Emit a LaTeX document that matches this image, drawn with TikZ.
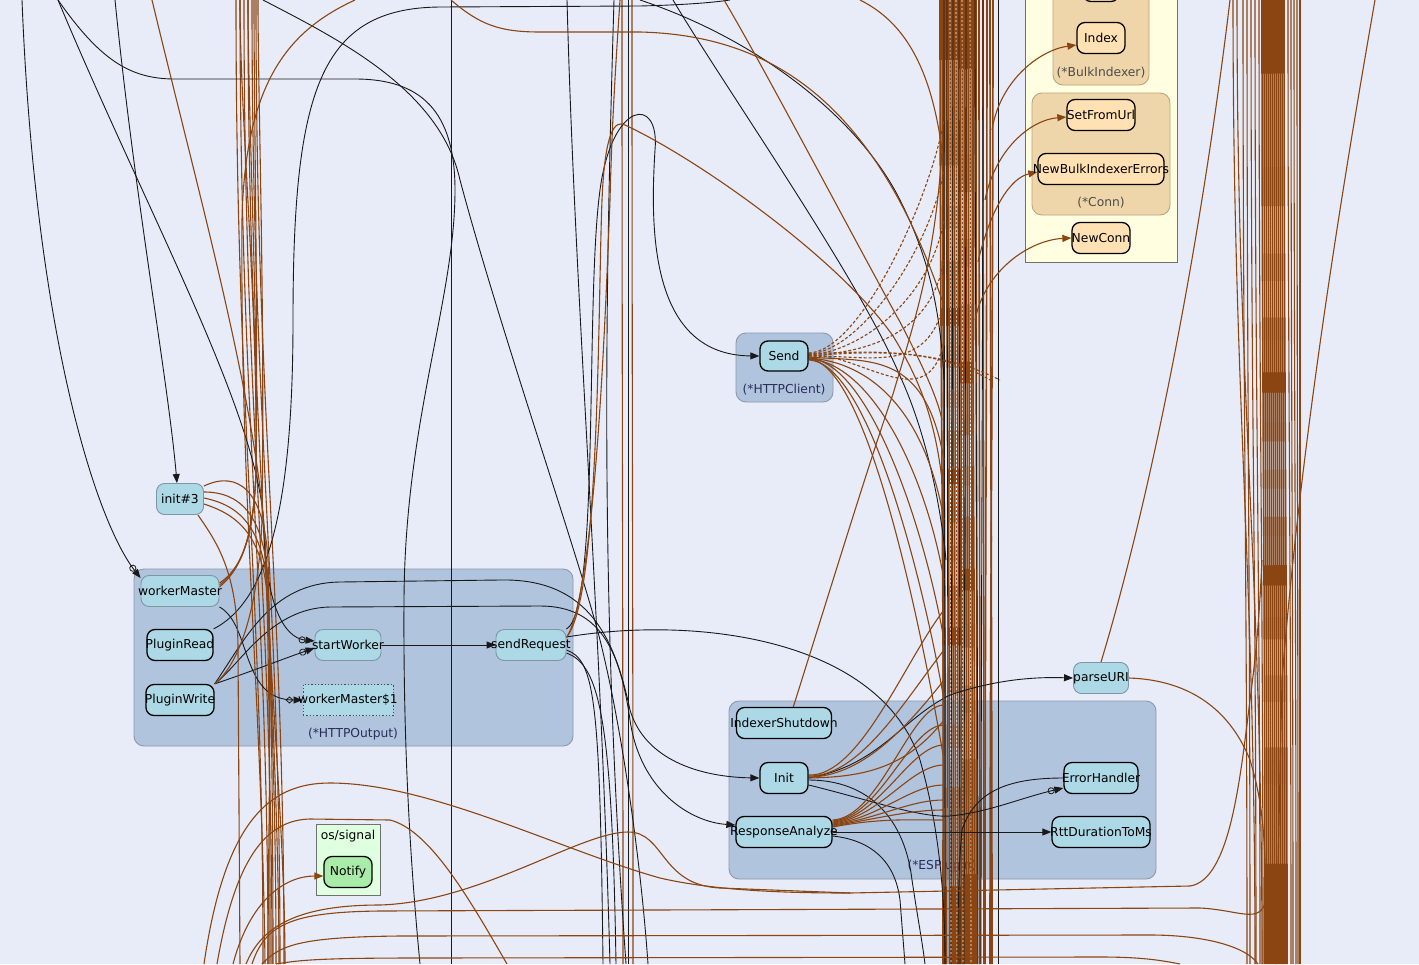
\documentclass[tikz,border=0pt]{standalone}
\usepackage{fontspec}
\setmainfont{DejaVu Sans}
\usetikzlibrary{arrows.meta,positioning,calc}

\definecolor{bgc}{HTML}{E7ECF8}
\definecolor{clusterblue}{HTML}{B0C4DE}
\definecolor{clusterline}{HTML}{8C99AA}
\definecolor{nodeblue}{HTML}{ADD8E6}
\definecolor{unexp}{HTML}{7F96A4}
\definecolor{pkgyellow}{HTML}{FFFEE0}
\definecolor{pkgline}{HTML}{707070}
\definecolor{typewheat}{HTML}{EFD6AA}
\definecolor{typeline}{HTML}{BBA47E}
\definecolor{extnode}{HTML}{FFE1B4}
\definecolor{sigfill}{HTML}{E0FFE0}
\definecolor{signode}{HTML}{A9EBA9}
\definecolor{extedge}{HTML}{8B4513}
\definecolor{labelink}{HTML}{2B2B5A}

\pgfdeclarelayer{bg}
\pgfdeclarelayer{edges}
\pgfsetlayers{bg,edges,main}

\newcommand{\fname}[1]{\makebox[0pt]{#1}}

\begin{document}
\begin{tikzpicture}[x=1pt, y=-1pt, font=\fontsize{12.3}{14}\selectfont]

  % ===== Styles =====
  \tikzset{
    fn/.style={rectangle, rounded corners=8pt, fill=nodeblue, draw=black, line width=1.3pt,
      minimum height=31pt, inner sep=0pt, text=black},
    fnu/.style={fn, draw=unexp, line width=0.9pt},
    fnx/.style={fn, fill=extnode},
    fnclosure/.style={fn, rounded corners=0pt, draw=black!70, dotted, line width=1pt},
    cluster/.style={fill=clusterblue, draw=clusterline, line width=0.9pt, rounded corners=10pt},
    typebox/.style={fill=typewheat, draw=typeline, line width=0.9pt, rounded corners=10pt},
    pkgbox/.style={fill=pkgyellow, draw=pkgline, line width=1pt},
    clabel/.style={text=labelink},
    call/.style={draw=black!90, line width=0.9pt},
    ext/.style={draw=extedge, line width=1.1pt},
    heavy/.style={draw=extedge, line width=1.6pt},
    dyn/.style={ext, dash pattern=on 3pt off 2pt},
    wdash/.style={draw=white, line width=0.6pt, dash pattern=on 2pt off 2pt},
    arr/.style={-{Triangle[length=9pt,width=7pt]}},
    gocall/.style={-{Circle[open,length=7pt,width=7pt,line width=0.8pt] Triangle[length=9pt,width=7pt]}},
    defercall/.style={-{Diamond[open,length=8pt,width=7pt,line width=0.8pt] Triangle[length=9pt,width=7pt]}}
  }

  \useasboundingbox (0,0) rectangle (1419,964);

  % ===== Background and clusters =====
  \begin{pgfonlayer}{bg}
    \fill[bgc] (0,0) rectangle (1419,964);
    % (*HTTPOutput)
    \draw[cluster] (134,569) rectangle (573,746);
    \node[clabel] (lblOutput) at (353,734) {(*HTTPOutput)};
    % (*HTTPClient)
    \draw[cluster] (736,333) rectangle (833,402);
    \node[clabel] (lblClient) at (784,390) {(*HTTPClient)};
    % (*ESPlugin)
    \draw[cluster] (729,701) rectangle (1156,879);
    \node[clabel] (lblPlugin) at (942,866) {(*ESPlugin)};
    % external package
    \draw[pkgbox] (1025,-10) rectangle (1177,262);
    \draw[typebox] (1053,-20) rectangle (1149,85);
    \node[text=black!70] (lblBulk) at (1101,73) {(*BulkIndexer)};
    \draw[typebox] (1032,93) rectangle (1170,215);
    \node[text=black!70] (lblConn) at (1101,203) {(*Conn)};
    % os/signal
    \draw[fill=sigfill, draw=pkgline, line width=1pt] (316,824) rectangle (380,895);
    \node (lblSignal) at (348,836) {os/signal};
  \end{pgfonlayer}

  % ===== Nodes =====
  \node[fnu, minimum width=47pt] (initThree) at (180,499) {\fname{init\#3}};
  \node[fnu, minimum width=78pt] (workerMaster) at (180,591) {\fname{workerMaster}};
  \node[fn, minimum width=66pt] (pluginRead) at (180,645) {\fname{PluginRead}};
  \node[fn, minimum width=68pt] (pluginWrite) at (180,700) {\fname{PluginWrite}};
  \node[fnu, minimum width=66pt] (startWorker) at (348,645) {\fname{startWorker}};
  \node[fnu, minimum width=70pt] (sendRequest) at (531,645) {\fname{sendRequest}};
  \node[fnclosure, minimum width=90pt] (workerMasterOne) at (348,700) {\fname{workerMaster\$1}};

  \node[fn, minimum width=48pt, minimum height=30pt] (send) at (784,356) {\fname{Send}};

  \node[fn, minimum width=95pt] (indexerShutdown) at (784,723) {\fname{IndexerShutdown}};
  \node[fn, minimum width=48pt] (init) at (784,778) {\fname{Init}};
  \node[fn, minimum width=96pt] (responseAnalyze) at (784,832) {\fname{ResponseAnalyze}};
  \node[fn, minimum width=74pt] (errorHandler) at (1101,778) {\fname{ErrorHandler}};
  \node[fn, minimum width=98pt] (rttDuration) at (1101,832) {\fname{RttDurationToMs}};
  \node[fnu, minimum width=55pt] (parseURI) at (1101,678) {\fname{parseURI}};

  \node[fnx, minimum width=36pt] (bulkTop) at (1101,-14) {};
  \node[fnx, minimum width=48pt] (indexNode) at (1101,38) {\fname{Index}};
  \node[fnx, minimum width=68pt] (setFromUrl) at (1101,115) {\fname{SetFromUrl}};
  \node[fnx, minimum width=126pt] (newBulk) at (1101,169) {\fname{NewBulkIndexerErrors}};
  \node[fnx, minimum width=58pt] (newConn) at (1101,238) {\fname{NewConn}};

  \node[fn, fill=signode, minimum width=48pt] (notify) at (348,872) {\fname{Notify}};

  \begin{pgfonlayer}{edges}
  % ===== Bundles of calls leaving the picture =====
  \foreach \a/\b in {940/944, 942/946, 944/943, 946/950, 948/952, 950/954, 952/956, 954/958,
      956/960, 958/962, 960/963, 962/965, 964/967, 966/969, 968/971, 970/973, 972/975,
      974/972, 976/977, 979/980, 983/984, 987/985, 990/992, 993/990} {
    \coordinate (mt) at (\a,0); \coordinate (mb) at (\b,964);
    \draw[heavy] (mt) .. controls +(0,350) and +(0,-360) .. (mb);
  }
  \foreach \a/\b in {944/945, 947/948, 953/951, 959/960, 966/964, 975/978, 983/981, 998/998} {
    \coordinate (mt) at (\a,0); \coordinate (mb) at (\b,964);
    \draw[call] (mt) .. controls +(0,350) and +(0,-360) .. (mb);
  }
  \foreach \a/\b in {950/951, 956/957, 962/963, 970/971, 1271/1272} {
    \coordinate (mt) at (\a,0); \coordinate (mb) at (\b,964);
    \draw[wdash] (mt) -- (mb);
  }
  \foreach \a/\b in {1262/1265, 1264/1267, 1266/1269, 1268/1271, 1270/1273, 1272/1275, 1274/1277,
      1276/1279, 1278/1281, 1280/1283, 1282/1285, 1284/1287} {
    \coordinate (rt) at (\a,0); \coordinate (rb) at (\b,964);
    \draw[heavy] (rt) .. controls +(0,400) and +(0,-400) .. (rb);
  }
  \foreach \a/\b in {1233/1255, 1237/1262, 1243/1247, 1247/1250, 1251/1256, 1255/1260, 1259/1263,
      1288/1291, 1291/1293, 1294/1296, 1297/1298, 1300/1300} {
    \coordinate (rt) at (\a,0); \coordinate (rb) at (\b,964);
    \draw[ext] (rt) .. controls +(0,400) and +(0,-400) .. (rb);
  }
  \foreach \a/\b in {236/263, 240/268, 244/272, 248/276, 252/280, 256/284, 622/623, 632/633} {
    \coordinate (lt) at (\a,0); \coordinate (lb) at (\b,964);
    \draw[ext] (lt) .. controls +(0,420) and +(0,-380) .. (lb);
  }
  \foreach \a/\b in {451/451, 628/628} {
    \coordinate (lt) at (\a,0); \coordinate (lb) at (\b,964);
    \draw[call] (lt) -- (lb);
  }

  % ===== Internal calls =====
  \coordinate (topA) at (22,0);
  \coordinate (topB) at (115,0);
  \coordinate (topC) at (58,0);
  \coordinate (topD) at (730,0);
  \coordinate (topL) at (263,0);
  \coordinate (topM) at (567,0);
  \coordinate (topN) at (614,0);
  \coordinate (topP) at (640,0);
  \coordinate (topQ) at (673,0);
  \coordinate (botC) at (420,964);
  \coordinate (botE) at (945,964);
  \coordinate (botF) at (603,964);
  \coordinate (botG) at (616,964);
  \coordinate (botH) at (925,964);
  \coordinate (botI) at (958,964);
  \coordinate (botJ) at (905,964);
  \coordinate (botL) at (648,964);
  \coordinate (botM) at (610,964);
  \coordinate (botN) at (626,964);
  \coordinate (midP) at (944,380);
  \coordinate (midQ) at (946,560);

  \draw[call, gocall] (topA) .. controls (35,330) and (95,520) .. ([yshift=-3pt]workerMaster.north west);
  \draw[call, arr] (topB) .. controls (135,200) and (168,380) .. ([xshift=-3pt]initThree.north);
  \draw[call] (topC) .. controls (100,60) and (130,79) .. (175,79) -- (355,79)
    .. controls (420,79) and (455,110) .. (455,190) .. controls (455,300) and (405,420) .. (404,600)
    .. controls (403,760) and (412,880) .. (botC);
  \draw[call, gocall] (topC) .. controls (150,220) and (262,420) .. (264,530)
    .. controls (266,600) and (282,638) .. ([yshift=4pt]startWorker.west);
  \draw[call, gocall] (pluginWrite.north east) .. controls (250,672) and (280,660) .. ([yshift=-3pt]startWorker.west);
  \draw[call, defercall] (workerMaster.south east) .. controls (252,625) and (240,700) .. (workerMasterOne.west);
  \draw[call, arr] (startWorker) -- (sendRequest);
  \draw[call] (pluginRead.north east) .. controls (270,600) and (293,500) .. (293,320)
    .. controls (293,90) and (320,8) .. (440,7) -- (640,6) .. controls (680,5) and (710,3) .. (topD);
  \draw[call, arr] (pluginWrite.north east) .. controls (245,640) and (270,583) .. (340,582) -- (500,580)
    .. controls (590,578) and (615,640) .. (630,710) .. controls (645,760) and (700,777) .. (init.west);
  \draw[call, arr] (pluginWrite.north east) .. controls (240,665) and (270,608) .. (330,607) -- (540,606)
    .. controls (600,606) and (620,650) .. (630,720) .. controls (640,790) and (690,822) .. ([yshift=7pt]responseAnalyze.west);
  \draw[call, arr] (sendRequest.north east) .. controls (600,610) and (585,300) .. (600,190)
    .. controls (612,100) and (660,95) .. (655,150) .. controls (650,230) and (650,355) .. (send.west);
  \draw[call] ([yshift=8pt]sendRequest.east) .. controls (700,615) and (880,640) .. (920,760)
    .. controls (940,830) and (945,900) .. (botE);
  \draw[call] ([yshift=-5pt]sendRequest.east) .. controls (595,660) and (600,700) .. (botF);
  \draw[call] ([yshift=-8pt]sendRequest.east) .. controls (600,665) and (612,720) .. (botG);
  \draw[call] (topL) .. controls (340,40) and (440,90) .. (460,180) .. controls (500,330) and (580,560) .. (600,640)
    .. controls (620,720) and (640,850) .. (botL);
  \draw[call] (topM) .. controls (575,300) and (600,600) .. (botM);
  \draw[call] (topN) .. controls (605,300) and (600,600) .. (botN);
  \draw[call] (topP) .. controls (760,40) and (860,120) .. (900,200) .. controls (925,250) and (940,300) .. (midP);
  \draw[call] (topQ) .. controls (720,80) and (860,280) .. (900,376) .. controls (925,430) and (940,500) .. (midQ);

  \draw[call, arr] (init.east) .. controls (880,765) and (900,720) .. (950,695)
    .. controls (1000,678) and (1040,677) .. (parseURI.west);
  \draw[call] ([yshift=-2pt]init.east) .. controls (870,780) and (905,820) .. (912,880)
    .. controls (918,920) and (922,940) .. (botH);
  \draw[call, gocall] ([yshift=-7pt]init.east) .. controls (870,800) and (920,818) .. (950,816)
    .. controls (990,812) and (1020,798) .. ([yshift=-10pt]errorHandler.west);
  \draw[call] (errorHandler.west) .. controls (1010,778) and (975,790) .. (962,830)
    .. controls (958,870) and (958,920) .. (botI);
  \draw[call, arr] (responseAnalyze.east) -- (rttDuration.west);
  \draw[call] ([yshift=-4pt]responseAnalyze.east) .. controls (870,840) and (895,860) .. (900,900) -- (botJ);

  % ===== Calls into other packages =====
  \coordinate (topR) at (152,0);
  \coordinate (topS) at (355,0);
  \coordinate (topT) at (451,0);
  \coordinate (topU) at (724,0);
  \coordinate (topV) at (860,0);
  \coordinate (topW) at (1375,0);
  \coordinate (topX) at (1230,0);
  \coordinate (botR) at (270,964);
  \coordinate (botS) at (265,964);
  \coordinate (botNotify) at (233,964);
  \coordinate (botB1) at (204,964);
  \coordinate (botB2) at (217,964);
  \coordinate (botB2e) at (507,964);
  \coordinate (botB3) at (246,964);
  \coordinate (botH1) at (252,964);
  \coordinate (botH2) at (262,964);
  \coordinate (botH3) at (276,964);
  \coordinate (botW) at (1276,964);
  \coordinate (fanT) at (942,300);
  \coordinate (bunT) at (942,150);
  \coordinate (bunU) at (942,420);
  \coordinate (bunR) at (1262,560);
  \coordinate (bunP) at (1266,900);
  \coordinate (srcIdx) at (992,130);
  \coordinate (srcSet) at (985,200);
  \coordinate (srcNbe) at (978,262);
  \coordinate (srcNc) at (975,320);

  % init#3 and workerMaster fans into the left bundle
  \foreach \s/\c/\e in {13/470/268, 7/492/273, 1/505/279, -5/515/285} {
    \coordinate (fe) at (\e,964);
    \draw[ext] ([yshift=\s pt]initThree.east) .. controls (238,\c) and (264,\c+20) .. (268,\c+90)
      .. controls (272,700) and (\e,850) .. (fe);
  }
  \coordinate (fe) at (240,964);
  \draw[ext] ([xshift=-6pt]initThree.south east) .. controls (215,540) and (238,570) .. (238,650) -- (fe);
  \foreach \s/\e in {8/240, 6/248, 4/254} {
    \coordinate (fu) at (\e,0);
    \draw[ext] ([yshift=\s pt]workerMaster.east) .. controls (240,570) and (254,540) .. (256,470)
      .. controls (258,300) and (\e,120) .. (fu);
  }
  \coordinate (fu) at (258,0);
  \draw[ext] (pluginWrite.north east) .. controls (235,668) and (258,620) .. (262,520) .. controls (265,300) and (258,100) .. (fu);
  \draw[ext] (topR) .. controls (200,200) and (262,420) .. (266,560) .. controls (270,700) and (270,850) .. (botR);
  \draw[ext] (topS) .. controls (290,30) and (245,80) .. (242,220) .. controls (240,500) and (262,700) .. (botS);
  \draw[ext, arr] (botNotify) .. controls (250,900) and (285,876) .. ([yshift=-4pt]notify.west);

  % sweeping calls along the bottom
  \draw[ext] (botB1) .. controls (225,820) and (270,783) .. (330,783) .. controls (430,783) and (560,850) .. (660,878)
    .. controls (720,892) and (800,893) .. (850,893) -- (1190,886) .. controls (1230,880) and (1240,780) .. (1250,700)
    .. controls (1258,640) and (1260,600) .. (bunR);
  \draw[ext] (botB2) .. controls (235,860) and (265,820) .. (310,819) -- (390,820) .. controls (430,830) and (470,900) .. (botB2e);
  \draw[ext] (botB3) .. controls (262,925) and (300,905) .. (380,905) .. controls (480,902) and (580,832) .. (628,832)
    .. controls (665,832) and (660,885) .. (720,888) -- (850,893);
  \draw[ext] (botH1) .. controls (265,925) and (290,912) .. (380,911) -- (1200,908) .. controls (1240,910) and (1260,925) .. (bunP);
  \draw[ext] (botH2) .. controls (280,945) and (300,937) .. (400,936) -- (1150,935) .. controls (1200,935) and (1245,945) .. (1258,964);
  \draw[ext] (botH3) .. controls (300,960) and (320,958) .. (420,958) -- (1100,957) .. controls (1140,957) and (1160,960) .. (1180,964);

  % sendRequest, Send and the middle bundle
  \draw[ext] ([yshift=8pt]sendRequest.east) .. controls (600,600) and (598,300) .. (602,200)
    .. controls (605,130) and (615,120) .. (625,125) .. controls (700,160) and (840,260) .. (893,336)
    .. controls (920,380) and (935,420) .. (942,480);
  \draw[ext] ([yshift=7pt]sendRequest.east) .. controls (596,590) and (606,300) .. (610,200) .. controls (612,120) and (616,60) .. (620,0);
  \foreach \s/\ye in {3/120, 2/170, 1/220, 0/260, -1/300, 1/340} {
    \coordinate (de) at (944,\ye);
    \draw[dyn] ([yshift=\s pt]send.east) .. controls (860,352) and (930,\ye+80) .. (de);
  }
  \foreach \s/\xe in {2/1000, 0/990} {
    \coordinate (de) at (\xe,380);
    \draw[dyn] ([yshift=\s pt]send.east) .. controls (880,350) and (940,350) .. (de);
  }
  \foreach \s/\ye in {-1/460, -2/520, -3/580, -2/640, -4/700, -3/760} {
    \coordinate (de) at (944,\ye);
    \draw[ext] ([yshift=\s pt]send.east) .. controls (870,362) and (925,\ye-110) .. (de);
  }
  \draw[ext] (topU) .. controls (760,60) and (860,250) .. (900,322) .. controls (925,370) and (938,400) .. (bunU);
  \draw[ext] (topT) .. controls (480,25) and (500,32) .. (540,32) -- (640,32) .. controls (760,35) and (870,90) .. (fanT);
  \draw[ext] (topV) .. controls (900,20) and (930,60) .. (bunT);
  \draw[ext] (indexerShutdown.60) .. controls (830,590) and (870,460) .. (893,394) .. controls (915,320) and (935,260) .. (bunT);

  % Init and ResponseAnalyze fans
  \foreach \s/\ye in {3/610, 2/650, 1/680, 0/720} {
    \coordinate (fi) at (944,\ye);
    \draw[ext] ([yshift=\s pt]init.east) .. controls (860,777) and (905,\ye+50) .. (fi);
  }
  \foreach \s/\ye in {12/705, 11/725, 10/745, 9/765, 8/785, 7/800, 6/810, 5/820} {
    \coordinate (fr) at (944,\ye);
    \draw[ext] ([yshift=\s pt]responseAnalyze.east) .. controls (880,818) and (910,\ye) .. (fr);
  }

  % parseURI
  \draw[ext] (parseURI.north) .. controls (1150,500) and (1200,250) .. (topX);
  \draw[ext] (parseURI.east) .. controls (1190,680) and (1230,710) .. (1250,760) .. controls (1262,800) and (1265,830) .. (bunP);
  \draw[ext] (topW) .. controls (1340,200) and (1300,450) .. (1282,680) -- (botW);

  % into the external package
  \draw[ext, arr] (srcIdx) .. controls (1000,80) and (1040,50) .. ([yshift=-7pt]indexNode.west);
  \draw[ext, arr] (srcSet) .. controls (995,150) and (1030,120) .. ([yshift=-2pt]setFromUrl.west);
  \draw[ext, arr] (srcNbe) .. controls (990,210) and (1010,178) .. ([yshift=-3pt]newBulk.west);
  \draw[ext, arr] (srcNc) .. controls (985,270) and (1030,240) .. (newConn.west);
  \end{pgfonlayer}

\end{tikzpicture}
\end{document}
